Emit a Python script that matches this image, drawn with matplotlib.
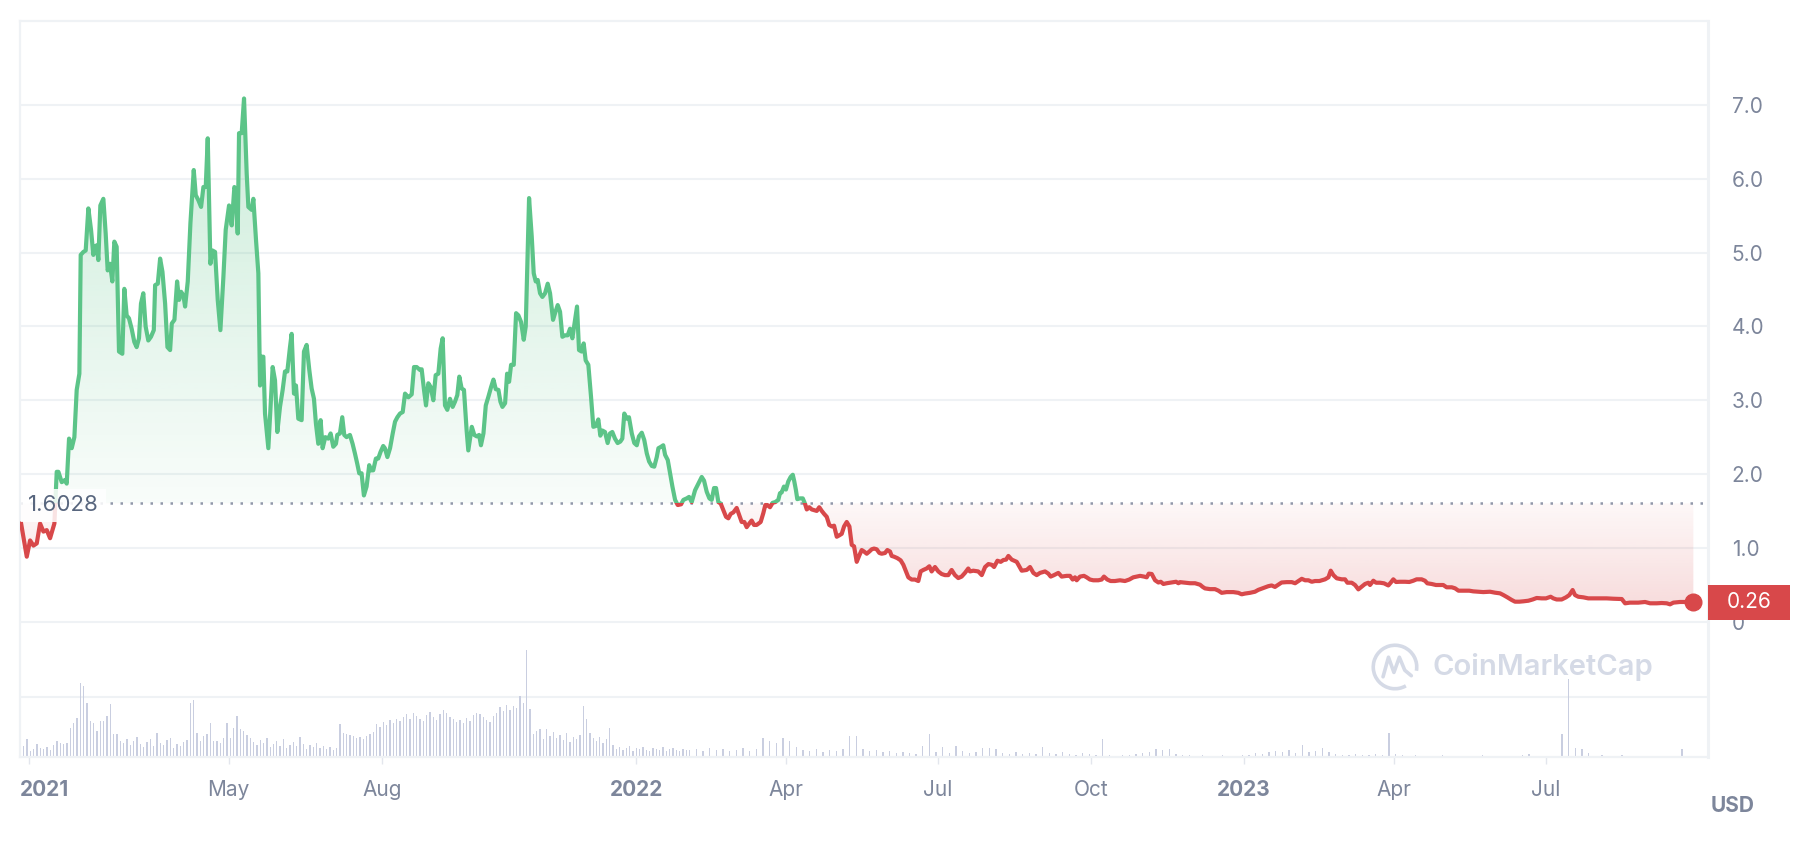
import matplotlib.pyplot as plt
import matplotlib.dates as mdates
import matplotlib.transforms as mtransforms
import matplotlib.colors as mcolors
from matplotlib.patches import Rectangle, Arc
from matplotlib.path import Path
from matplotlib.patches import PathPatch
import numpy as np
import pandas as pd

plt.rcParams['font.family'] = ['Inter', 'DejaVu Sans']

# price: days counted from 2021-01-01, price in USD
price_days = [
    -4.6, -1.2, 0.8, 2.8, 4.8, 6.8, 8.8, 10.8, 12.8, 14.2, 15.4, 16.8, 17.8, 19.8, 21.8, 22.8,
    24.2, 25.8, 27.4, 28.8, 30.4, 31.2, 32.8, 34.2, 35.8, 37.4, 38.8, 39.8, 40.8, 41.8, 43.0,
    44.8, 46.2, 47.4, 48.8, 50.2, 51.4, 52.8, 54.2, 56.2, 57.4, 58.8, 60.2, 61.8, 63.4, 64.8,
    66.2, 67.4, 68.8, 70.2, 71.8, 73.4, 75.1, 75.9, 77.5, 78.9, 80.3, 81.9, 83.3, 84.9, 85.9,
    87.5, 89.1, 90.3, 91.5, 92.9, 93.9, 95.5, 97.1, 99.1, 100.3, 101.9, 103.5, 104.9, 106.3,
    107.5, 109.1, 110.3, 111.9, 113.5, 115.1, 116.9, 118.3, 120.3, 121.9, 123.5, 124.3, 125.5,
    126.3, 127.9,
    129.3, 130.9, 131.9, 133.9, 134.9, 136.5, 137.9, 138.9, 139.9, 140.9, 141.9, 143.9, 146.5,
    147.9, 149.3, 150.9, 152.5, 153.9, 155.3, 156.9, 157.9, 159.3, 160.5, 161.9, 163.9, 165.3,
    166.9, 168.5, 169.9, 171.3, 172.5, 173.9, 175.3, 176.5, 178.1, 179.9, 181.3, 182.9, 184.5,
    185.3, 186.9, 188.3, 189.5, 190.9, 192.9, 194.5, 195.9, 197.3, 198.5, 199.9, 201.3, 202.9,
    204.5, 205.3, 206.9, 208.5, 209.9, 211.3, 212.9, 213.9, 215.4, 217.0, 218.6, 220.0, 221.4,
    223.0, 224.6, 226.0, 228.0, 230.0, 231.4, 233.0, 235.0, 236.0, 237.4, 238.6, 240.0, 241.4,
    243.0, 244.4, 246.0, 247.4, 248.6, 250.0, 251.4, 253.0, 254.6, 256.0, 257.4, 258.6, 260.0,
    261.4, 263.0, 264.0,
    266.1, 267.6, 269.1, 270.5, 271.6, 273.1, 274.5, 276.1, 277.7, 279.1, 280.5, 282.1, 283.3,
    284.5, 286.1, 287.3, 288.5, 289.7, 291.3, 292.7, 294.1, 295.7, 297.3, 298.5, 300.5, 302.1,
    303.3, 304.5, 305.7, 307.1, 308.5, 310.1, 311.7, 313.1, 314.9, 316.1, 317.7, 319.1, 320.5,
    322.1, 323.7, 325.1, 326.5, 328.1, 329.3, 330.5, 332.1, 333.3, 334.5, 336.1, 337.7, 339.1,
    340.5, 342.1, 343.3, 344.5, 346.1, 347.7, 349.1, 350.5, 352.1, 353.7, 355.3, 356.5, 357.7,
    359.2, 360.5, 362.2, 363.7, 365.2, 366.5, 368.2, 369.7, 371.2, 372.6, 374.2, 375.7, 377.2,
    378.2, 379.8, 381.1, 382.2, 383.8, 385.2, 386.6, 388.2, 389.8, 391.8, 393.2, 395.2, 396.6,
    398.2, 400.2,
    402.2, 404.2, 405.6, 407.2, 408.8, 410.2, 411.6, 412.8, 414.2, 415.6, 417.2, 418.8, 420.2,
    421.6, 423.2, 425.2, 426.8, 428.2, 429.8, 431.2, 432.8, 434.2, 435.6, 437.2, 439.6, 441.2,
    442.4, 443.6, 445.2, 446.8, 448.4, 450.2, 451.2, 452.2, 453.6, 454.8, 456.2, 457.6, 458.9,
    459.8, 460.8, 461.6, 463.2, 464.9, 466.2, 467.3, 468.8, 470.3, 471.7, 473.3, 474.8, 476.3,
    477.7, 479.3, 480.8, 482.3, 483.7, 485.3, 486.9, 488.3, 489.7, 491.3, 492.9, 494.3, 495.7,
    497.3, 498.9, 500.3, 501.7, 503.3, 504.9, 506.3, 507.7, 509.3, 510.9, 512.3, 514.3, 515.7,
    517.3, 518.3, 519.7, 521.7, 523.7, 525.3, 526.9, 528.3, 530.3, 532.3, 534.3, 535.7, 537.3,
    539.3, 540.9,
    542.3, 544.3, 546.3, 548.3, 550.3, 552.3, 554.3, 556.3, 558.3, 560.3, 562.3, 564.3, 565.3,
    567.3, 570.3, 572.4, 574.4, 576.4, 578.4, 579.8, 581.8, 583.8, 585.4, 587.0, 588.4, 590.4,
    593.4, 596.4, 599.4, 601.4, 603.4, 605.4, 607.4, 610.4, 612.4, 613.8, 615.8, 618.4, 620.4,
    623.4, 625.4, 627.0, 628.4, 629.4, 631.4, 633.8, 635.4, 637.4, 639.4, 642.4, 644.4, 645.8,
    647.8, 649.8, 652.4, 655.4, 658.4, 661.0, 663.4, 665.5, 667.5, 669.9, 671.5, 672.7, 674.5,
    676.5, 678.5, 679.9, 681.5, 683.5, 686.5, 689.1, 690.5, 691.5, 693.5, 697.5, 700.5, 703.5,
    705.1, 706.5, 709.5, 712.5, 714.5, 716.5, 719.5, 723.5, 726.5, 728.5, 730.5, 733.5, 736.5,
    738.5, 741.5, 744.5, 746.5, 748.5, 750.5, 752.5, 755.6, 758.6, 760.6, 762.6, 764.6, 766.6,
    768.6, 770.6, 772.6, 775.2,
    778.6, 780.6, 782.0, 783.6, 785.6, 788.6, 790.6, 792.0, 794.6, 796.6, 798.6, 800.6, 802.6,
    804.6, 805.6, 807.6, 809.2, 811.6, 814.0, 816.6, 818.0, 819.6, 821.2, 823.6, 826.6, 829.2,
    831.6, 833.6, 836.6, 838.6, 840.0, 842.6, 845.2, 847.6, 849.6, 851.6, 854.7, 856.7, 858.7,
    861.6, 865.2, 867.6, 870.6, 873.6, 877.7, 880.7, 883.7, 885.7, 888.1, 890.7, 892.7, 895.3,
    897.7, 900.7, 903.3, 905.7, 908.7, 911.3, 914.1, 915.7, 917.7, 920.7, 923.3, 925.3, 927.3,
    928.7, 930.7, 933.7, 936.7, 939.7, 943.7, 947.7, 951.7, 956.8, 958.8, 961.7, 966.7, 970.8,
    973.8, 977.8, 980.8, 983.8, 985.8, 987.8, 991.8, 994.8, 999.8,
]
prices = [
    1.33, 0.88, 1.10, 1.03, 1.06, 1.33, 1.22, 1.24, 1.13, 1.24, 1.33, 2.03, 2.03, 1.89, 1.92, 1.87,
    2.48, 2.35, 2.50, 3.14, 3.36, 4.97, 5.01, 5.03, 5.60, 5.31, 4.97, 5.08, 5.10, 4.90, 5.64,
    5.73, 5.26, 4.76, 4.85, 4.61, 5.15, 5.08, 3.66, 3.63, 4.51, 4.15, 4.11, 3.97, 3.79, 3.72,
    3.84, 4.31, 4.45, 4.00, 3.81, 3.86, 3.95, 4.56, 4.58, 4.92, 4.74, 4.31, 3.72, 3.68, 4.04,
    4.09, 4.61, 4.36, 4.47, 4.42, 4.27, 4.61, 5.40, 6.12, 5.78, 5.71, 5.62, 5.89, 5.89,
    6.55, 4.85, 5.03, 5.01, 4.36, 3.95, 4.67, 5.31, 5.64, 5.37, 5.89, 5.85, 5.26,
    6.62, 6.62,
    7.09, 6.07, 5.62, 5.58, 5.73, 5.17, 4.72, 3.20, 3.59, 3.59, 2.82, 2.35, 3.45,
    3.27, 2.57, 2.91, 3.14, 3.39, 3.39, 3.72, 3.90, 3.09, 3.20, 2.75, 2.73, 3.66,
    3.75, 3.41, 3.16, 3.02, 2.68, 2.41, 2.73, 2.35, 2.50, 2.48, 2.55, 2.37, 2.41,
    2.53, 2.55, 2.77, 2.53, 2.50, 2.53, 2.41, 2.28, 2.14, 2.01, 2.01, 1.71, 1.83,
    2.12, 2.05, 2.05, 2.21, 2.21, 2.30, 2.38, 2.35, 2.23, 2.35, 2.55, 2.71, 2.77,
    2.82, 2.84, 3.09, 3.04, 3.08, 3.45, 3.45, 3.41, 3.42, 3.14, 2.93, 3.23, 3.18,
    3.00, 3.34, 3.36, 3.70, 3.84, 2.93, 2.87, 3.02, 2.91, 2.98, 3.07, 3.32, 3.16,
    3.14, 2.59, 2.32,
    2.64, 2.53, 2.51, 2.53, 2.39, 2.55, 2.93, 3.05, 3.18, 3.28, 3.15, 3.14, 2.98,
    2.91, 2.96, 3.36, 3.25, 3.48, 3.48, 4.18, 4.15, 4.06, 3.82, 4.00, 5.74, 5.22,
    4.72, 4.61, 4.63, 4.45, 4.40, 4.45, 4.58, 4.45, 4.09, 4.18, 4.29, 4.20, 3.86,
    3.88, 3.88, 3.97, 3.84, 4.09, 4.27, 3.68, 3.66, 3.77, 3.54, 3.48, 3.05, 2.64,
    2.65, 2.74, 2.52, 2.59, 2.57, 2.42, 2.55, 2.57, 2.48, 2.42, 2.44, 2.48, 2.82,
    2.75, 2.77, 2.55, 2.42, 2.39, 2.51, 2.56, 2.46, 2.28, 2.17, 2.11, 2.10, 2.23,
    2.35, 2.37, 2.39, 2.26, 2.19, 2.01, 1.83, 1.65, 1.58, 1.59, 1.65, 1.67, 1.69,
    1.62, 1.78,
    1.87, 1.96, 1.91, 1.76, 1.67, 1.65, 1.81, 1.81, 1.62, 1.60, 1.51, 1.42, 1.40,
    1.46, 1.48, 1.54, 1.44, 1.35, 1.35, 1.28, 1.33, 1.37, 1.31, 1.31, 1.35, 1.47,
    1.58, 1.58, 1.55, 1.61, 1.62, 1.65, 1.74, 1.75, 1.83, 1.79, 1.90, 1.96, 1.99,
    1.90, 1.78, 1.66, 1.67, 1.67, 1.60, 1.52, 1.55, 1.52, 1.51, 1.50, 1.55, 1.50,
    1.46, 1.42, 1.31, 1.29, 1.30, 1.15, 1.17, 1.19, 1.29, 1.35, 1.29, 1.04, 1.02,
    0.81, 0.90, 0.97, 0.95, 0.92, 0.95, 0.98, 0.99, 0.98, 0.93, 0.92, 0.93, 0.97,
    0.95, 0.89, 0.88, 0.86, 0.83, 0.77, 0.68, 0.60, 0.57, 0.57, 0.55, 0.68, 0.70,
    0.72, 0.75,
    0.68, 0.74, 0.68, 0.645, 0.63, 0.63, 0.70, 0.63, 0.59, 0.61, 0.66, 0.72, 0.68,
    0.69, 0.68, 0.63, 0.74, 0.78, 0.77, 0.74, 0.825, 0.81, 0.835, 0.84, 0.89, 0.84,
    0.81, 0.69, 0.70, 0.74, 0.66, 0.63, 0.66, 0.68, 0.65, 0.61, 0.63, 0.66, 0.61,
    0.62, 0.62, 0.57, 0.60, 0.56, 0.61, 0.62, 0.60, 0.57, 0.56, 0.56, 0.57, 0.61,
    0.57, 0.55, 0.55, 0.56, 0.55, 0.57, 0.60, 0.61, 0.62, 0.61, 0.60, 0.65, 0.645,
    0.56, 0.53, 0.54, 0.51, 0.52, 0.53, 0.54, 0.52, 0.535, 0.53, 0.52, 0.52, 0.50,
    0.47, 0.45, 0.44, 0.44, 0.42, 0.39, 0.40, 0.40, 0.39, 0.37, 0.38, 0.39, 0.405,
    0.43, 0.455, 0.48, 0.49, 0.47, 0.50, 0.53, 0.535, 0.535, 0.52, 0.55, 0.58, 0.56,
    0.56, 0.54, 0.55, 0.55,
    0.573, 0.60, 0.69, 0.63, 0.587, 0.573, 0.573, 0.527, 0.527, 0.496, 0.437, 0.473, 0.51,
    0.527, 0.496, 0.554, 0.527, 0.527, 0.519, 0.49, 0.527, 0.573, 0.537, 0.54, 0.54, 0.537,
    0.554, 0.573, 0.573, 0.554, 0.519, 0.51, 0.496, 0.496, 0.496, 0.465, 0.465, 0.451, 0.419,
    0.419, 0.419, 0.41, 0.405, 0.40, 0.405, 0.392, 0.383, 0.36, 0.329, 0.293, 0.27, 0.27,
    0.275, 0.283, 0.30, 0.32, 0.315, 0.315, 0.337, 0.315, 0.30, 0.30, 0.329, 0.36, 0.428,
    0.36, 0.337, 0.329, 0.315, 0.315, 0.315, 0.315, 0.31, 0.306, 0.248, 0.257, 0.257, 0.266,
    0.248, 0.248, 0.252, 0.248, 0.234, 0.257, 0.266, 0.266, 0.26,
]

# trading volume (relative units)
vol_dates_2021 = pd.date_range('2020-12-27', periods=201, freq='2D')
vol_2021 = [
    18, 11, 18, 6, 8, 13, 9, 8, 10, 7, 12,
    16, 14, 13, 14, 29, 34, 39,
    74, 71,
    54, 36, 34, 26, 36, 36, 41, 53, 23, 23, 16,
    14, 18, 12, 16, 20, 13, 10, 15, 18, 11, 24, 14, 12, 17, 19, 9, 13, 11, 15, 17,
    54, 57,
    24, 16, 21, 23, 34, 16, 16, 14, 19,
    34, 19, 29, 41, 28, 26, 22,
    19, 15, 12, 17, 14, 19, 10, 13, 16, 11, 18, 9, 12, 15, 11, 20, 13, 8, 12, 10, 14, 9, 11, 8,
    10, 7, 9,
    33, 24, 23, 22, 21, 19, 20, 18, 21, 23, 25,
    33, 30, 35, 32, 37, 34, 38, 36, 40, 43, 38, 44, 41, 38, 36, 42, 45, 40, 37, 43,
    47, 44, 40, 38, 35, 37, 34, 39, 36, 42, 44, 43, 40, 37, 35, 41, 44, 50, 46, 52,
    47, 51, 49, 61, 54,
    107,
    48, 23, 26, 28, 18, 28, 21, 25, 19, 22, 17, 24, 15, 20, 18, 22,
    51,
    38, 24, 19, 16, 20, 14, 18, 29,
    12, 8, 10, 7, 9, 11, 6, 9, 8, 10, 7, 6, 9, 8, 7, 10, 6, 8, 9, 7, 6, 8, 7,
]
vol_dates_2022 = pd.date_range('2022-02-02', periods=151, freq='4D')
vol_2022 = [
    7, 8, 6, 9, 7, 8, 6, 7, 9, 6, 8,
    19, 16, 14, 19, 16, 10,
    7, 6, 8, 5, 7, 6, 8,
    21, 21,
    8, 6, 7, 5, 6, 4, 5, 4, 3,
    11, 23,
    5, 10, 4, 11, 6, 4, 5,
    9, 9, 8,
    4, 3, 5, 3, 4, 3,
    10,
    4, 3, 5, 3, 2, 4, 3, 2,
    18,
    2, 1, 2, 2, 3, 4, 5,
    8, 7, 8,
    3, 2, 2, 1, 2, 1, 1, 2, 1, 1, 2, 2, 4, 3,
    5, 6, 5, 7, 4,
    12,
    5, 6, 9, 5,
    3, 2, 2, 3, 2, 2, 3, 2,
    24,
    3, 2, 1, 2, 1, 1, 1, 2, 1, 1, 1, 1, 1, 2, 1, 1, 1, 1, 1, 2, 3, 1, 1, 1, 1,
    23, 78,
    9, 8, 4,
    1, 2, 1, 1, 2, 1, 1, 1, 1, 1, 1, 1,
    1, 8, 1,
]

baseline = 1.6028
last_label = '0.26'

tick_dates = ['2021-01-01', '2021-05-01', '2021-08-01', '2022-01-01', '2022-04-01',
              '2022-07-01', '2022-10-01', '2023-01-01', '2023-04-01', '2023-07-01']
tick_labels = ['2021', 'May', 'Aug', '2022', 'Apr', 'Jul', 'Oct', '2023', 'Apr', 'Jul']
tick_bold = [True, False, False, True, False, False, False, True, False, False]

GREEN = '#5cc488'
RED = '#d8484a'
GRID = '#eff2f5'
TXT = '#7d869b'

start = pd.Timestamp('2021-01-01')
x = mdates.date2num((start + pd.to_timedelta(price_days, unit='D')).to_numpy())
y = np.array(prices)

x_lo = mdates.date2num(start + pd.Timedelta(days=-5.5))
x_hi = mdates.date2num(start + pd.Timedelta(days=1008.6))
y_lo, y_hi = -1.835, 8.14

fig = plt.figure(figsize=(18.12, 8.42), dpi=100)
rect = [19.6 / 1812, 1 - 757 / 842, (1708 - 19.6) / 1812, (757 - 21) / 842]

# volume panel (behind)
axv = fig.add_axes(rect)
axv.bar(mdates.date2num(vol_dates_2021.to_numpy()), vol_2021, width=0.8, color='#c9cee0', lw=0)
axv.bar(mdates.date2num(vol_dates_2022.to_numpy()), vol_2022, width=0.8, color='#c9cee0', lw=0)
axv.axhline(60, color=GRID, lw=1.5, zorder=0)
axv.set_xlim(x_lo, x_hi)
axv.set_ylim(0, 736)
axv.axis('off')

ax = fig.add_axes(rect)
ax.patch.set_visible(False)
ax.set_zorder(axv.get_zorder() + 1)

# gradient fill between line and baseline
ys = np.linspace(y_lo, y_hi, 600)
grad = np.zeros((600, 2, 4))
up = ys >= baseline
grad[up, :, :3] = mcolors.to_rgb(GREEN)
grad[up, :, 3] = np.clip(0.04 + 0.05 * (ys[up] - baseline), 0, 0.3)[:, None]
grad[~up, :, :3] = mcolors.to_rgb(RED)
grad[~up, :, 3] = np.clip(0.04 + 0.11 * (baseline - ys[~up]), 0, 0.19)[:, None]
im = ax.imshow(grad, extent=[x_lo, x_hi, y_lo, y_hi], origin='lower', aspect='auto',
               interpolation='bilinear', zorder=1)
fill = ax.fill_between(x, y, baseline, facecolor='none', edgecolor='none')
im.set_clip_path(fill.get_paths()[0], transform=ax.transData)

# line, green above the starting price and red below
blend = mtransforms.blended_transform_factory(ax.transAxes, ax.transData)
lg, = ax.plot(x, y, color=GREEN, lw=3.0, zorder=3, solid_joinstyle='round')
lg.set_clip_path(Rectangle((0, baseline), 1, 50, transform=blend))
lr, = ax.plot(x, y, color=RED, lw=3.0, zorder=3, solid_joinstyle='round')
lr.set_clip_path(Rectangle((0, baseline - 50), 1, 50, transform=blend))

ax.axhline(baseline, color='#9198aa', lw=1.8, ls=(0, (1, 3)), zorder=2)
ax.text(0.005, baseline, f'{baseline:.4f}', transform=blend, ha='left', va='center_baseline',
        fontsize=16, color='#58667e', zorder=4,
        bbox=dict(boxstyle='square,pad=0.3', facecolor='white', alpha=0.85, edgecolor='none'))

ax.plot(x[-1], y[-1], 'o', ms=12, color=RED, zorder=5, clip_on=False)
box_h = 35 / 73.8
ax.add_patch(Rectangle((1.0, y[-1] - box_h / 2), 82 / 1688.4, box_h, transform=blend,
                       facecolor=RED, edgecolor='none', clip_on=False, zorder=6))
ax.text(1.0 + 41 / 1688.4, y[-1], last_label, transform=blend, ha='center', va='center',
        color='white', fontsize=15, zorder=7, clip_on=False)

ax.set_xlim(x_lo, x_hi)
ax.set_ylim(y_lo, y_hi)

ax.yaxis.tick_right()
ax.set_yticks(range(8))
ax.set_yticklabels(['0'] + [f'{v:.1f}' for v in range(1, 8)])
ax.tick_params(axis='y', length=0, pad=17, labelsize=15, labelcolor=TXT)
ax.grid(axis='y', color=GRID, lw=1.5)
ax.set_axisbelow(True)

ax.set_xticks(mdates.date2num(pd.to_datetime(tick_dates).to_numpy()))
ax.set_xticklabels(tick_labels)
ax.tick_params(axis='x', length=5, width=1, color='#e3e6ed', pad=11.5, labelsize=15, labelcolor=TXT)
for lbl, bold in zip(ax.get_xticklabels(), tick_bold):
    lbl.set_fontweight('bold' if bold else 'normal')
first = ax.get_xticklabels()[0]
first.set_horizontalalignment('left')
first.set_transform(first.get_transform() + mtransforms.ScaledTranslation(-0.087, 0, fig.dpi_scale_trans))

for side, sp in ax.spines.items():
    sp.set_color(GRID)
    sp.set_linewidth(2.2 if side == 'right' else 1.6)

fig.text(1733 / 1812, 1 - 806 / 842, 'USD', ha='center', va='center', fontsize=15,
         fontweight='bold', color=TXT)

# watermark
fig.text(1433 / 1812, 1 - 667 / 842, 'CoinMarketCap', ha='left', va='center', fontsize=21,
         fontweight='semibold', color='#d5dae6')
axl = fig.add_axes([1370 / 1812, 1 - 692 / 842, 50 / 1812, 50 / 842])
axl.set_xlim(-1.15, 1.15)
axl.set_ylim(-1.15, 1.15)
axl.axis('off')
axl.add_patch(Arc((0, 0), 2, 2, theta1=-10, theta2=300, color='#d5dae6', lw=2.6))
m_path = Path([(-0.55, -0.45), (-0.3, 0.45), (-0.05, -0.25), (0.2, 0.45), (0.45, -0.15), (0.75, -0.4)],
              [Path.MOVETO, Path.LINETO, Path.LINETO, Path.LINETO, Path.LINETO, Path.LINETO])
axl.add_patch(PathPatch(m_path, fill=False, edgecolor='#d5dae6', lw=2.6, joinstyle='round', capstyle='round'))

fig.savefig('out.png', dpi=100)
